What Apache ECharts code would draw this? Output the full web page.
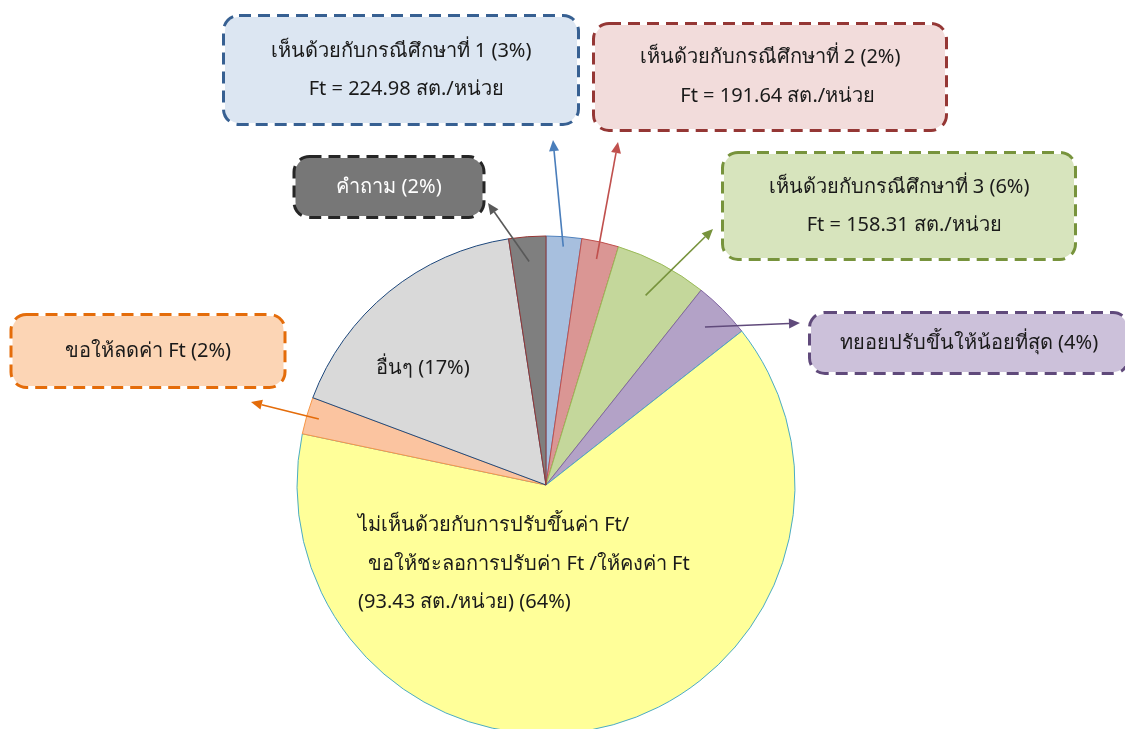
<!doctype html>
<html>
<head>
<meta charset="utf-8">
<title>Ft pie</title>
<style>
    html, body { margin: 0; padding: 0; background: #fff; }
    #main { width: 1125px; height: 729px; }
</style>
</head>
<body>
<div id="main"></div>
<script src="https://cdn.jsdelivr.net/npm/echarts@6/dist/echarts.min.js"></script>
<script>
    // slices, clockwise from 12 o'clock
    var names = ['กรณีศึกษาที่ 1', 'กรณีศึกษาที่ 2', 'กรณีศึกษาที่ 3', 'ทยอยปรับขึ้นให้น้อยที่สุด',
        'ไม่เห็นด้วย', 'ขอให้ลดค่า Ft', 'อื่นๆ', 'คำถาม'];
    var values = [2.3, 2.4, 6.0, 3.7, 63.9, 2.4, 16.9, 2.4];
    var labelTexts = [
        'เห็นด้วยกับกรณีศึกษาที่ 1 (3%)\n  Ft = 224.98 สต./หน่วย',
        'เห็นด้วยกับกรณีศึกษาที่ 2 (2%)\n   Ft = 191.64 สต./หน่วย',
        'เห็นด้วยกับกรณีศึกษาที่ 3 (6%)\n  Ft = 158.31 สต./หน่วย',
        'ทยอยปรับขึ้นให้น้อยที่สุด (4%)',
        'ไม่เห็นด้วยกับการปรับขึ้นค่า Ft/\n  ขอให้ชะลอการปรับค่า Ft /ให้คงค่า Ft\n(93.43 สต./หน่วย) (64%)',
        'ขอให้ลดค่า Ft (2%)',
        'อื่นๆ (17%)',
        'คำถาม (2%)'
    ];

    var sliceFill = ['#A7BFDE', '#DA9694', '#C4D79B', '#B3A2C7', '#FFFF99', '#FBC4A0', '#D9D9D9', '#7F7F7F'];
    var sliceLine = ['#4F81BD', '#C0504D', '#9BBB59', '#8064A2', '#4BACC6', '#F79646', '#1F497D', '#953735'];

    // callout boxes: [x, y, width, padV, lineHeight] (null fill = plain label, x is left edge)
    var boxFill = ['#DCE6F2', '#F2DCDB', '#D7E4BD', '#CCC1DA', null, '#FCD5B5', null, '#777777'];
    var boxLine = ['#376092', '#953735', '#77933C', '#604A7B', null, '#E46C0A', null, '#262626'];
    var boxGeom = [
        [401, 70, 352, 15, 38],
        [770, 77, 350, 13, 39],
        [899, 206, 350, 14, 38],
        [969, 343, 316, 14, 30],
        [358, 564, 0, 0, 38.5],
        [148, 351, 271, 20, 30],
        [376, 368, 0, 0, 30],
        [389, 187, 187, 14, 30]
    ];
    var textShift = 3;
    var textColor = ['#1a1a1a', '#1a1a1a', '#1a1a1a', '#1a1a1a', '#1a1a1a', '#1a1a1a', '#1a1a1a', '#ffffff'];

    // arrows: tail depth inside slice (fraction of radius), tip point near box
    var arrowColor = ['#4A7EBB', '#C0504D', '#77933C', '#604A7B', null, '#E46C0A', null, '#595959'];
    var arrowDepth = [0.96, 0.93, 0.86, 0.9, null, 0.95, null, 0.9];
    var arrowTip = [[553, 140], [618, 142], [713, 229], [800, 323], null, [251, 402], null, [488, 203]];

    var cx = 546, cy = 485, R = 249;
    var font = 'Tahoma, "Noto Sans", "DejaVu Sans", sans-serif';

    var chart = echarts.init(document.getElementById('main'), null, { renderer: 'canvas' });

    var seriesData = names.map(function (n, i) {
        var g = boxGeom[i];
        var label = {
            show: true,
            position: 'inside',
            formatter: labelTexts[i],
            color: textColor[i],
            fontSize: 20,
            fontFamily: font,
            lineHeight: g[4]
        };
        if (boxFill[i]) {
            label.backgroundColor = boxFill[i];
            label.borderColor = boxLine[i];
            label.borderWidth = 3;
            label.borderType = [12, 7];
            label.borderRadius = 14;
            label.width = g[2];
            label.padding = [g[3] + textShift, 0, g[3] - textShift, 0];
            label.align = 'center';
        } else {
            label.align = 'left';
        }
        return {
            name: n,
            value: values[i],
            itemStyle: { color: sliceFill[i], borderColor: sliceLine[i], borderWidth: 1 },
            label: label
        };
    });

    function arrow(x1, y1, x2, y2, color) {
        var dx = x2 - x1, dy = y2 - y1;
        var len = Math.sqrt(dx * dx + dy * dy);
        var ux = dx / len, uy = dy / len;
        var hl = 11, hw = 5;
        var bx = x2 - ux * hl, by = y2 - uy * hl;
        return [{
            type: 'line', z: 100,
            shape: { x1: x1, y1: y1, x2: bx, y2: by },
            style: { stroke: color, lineWidth: 1.6 }
        }, {
            type: 'polygon', z: 100,
            shape: { points: [[x2, y2], [bx - uy * hw, by + ux * hw], [bx + uy * hw, by - ux * hw]] },
            style: { fill: color }
        }];
    }

    var total = values.reduce(function (a, b) { return a + b; }, 0);
    var graphics = [];
    var cum = 0;
    values.forEach(function (v, i) {
        var mid = (cum + v / 2) / total * Math.PI * 2;
        cum += v;
        if (!arrowColor[i]) return;
        var r = R * arrowDepth[i];
        var tx = cx + r * Math.sin(mid), ty = cy - r * Math.cos(mid);
        graphics = graphics.concat(arrow(tx, ty, arrowTip[i][0], arrowTip[i][1], arrowColor[i]));
    });

    chart.setOption({
        backgroundColor: '#ffffff',
        animation: false,
        graphic: graphics,
        series: [{
            type: 'pie',
            center: [cx, cy],
            radius: R,
            startAngle: 90,
            clockwise: true,
            avoidLabelOverlap: false,
            silent: true,
            labelLine: { show: false },
            labelLayout: function (params) {
                var g = boxGeom[params.dataIndex];
                var boxed = !!boxFill[params.dataIndex];
                return {
                    x: g[0],
                    y: g[1],
                    align: boxed ? 'center' : 'left',
                    verticalAlign: 'middle'
                };
            },
            data: seriesData
        }]
    });

    window.onresize = chart.resize;
</script>
</body>
</html>
